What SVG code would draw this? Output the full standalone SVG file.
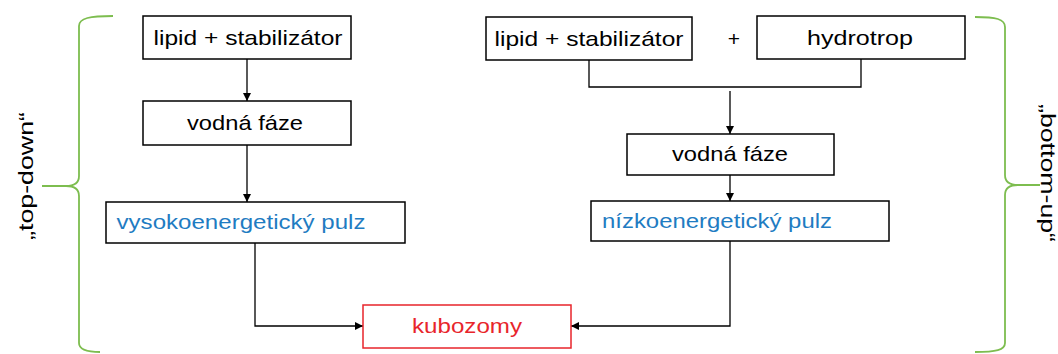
<svg xmlns="http://www.w3.org/2000/svg" width="1058" height="354" viewBox="0 0 1058 354">
<defs>
<style>
.box{fill:#fff;stroke:#000;stroke-width:1.5}
.red{fill:#fff;stroke:#e8252b;stroke-width:1.5}
.t{font-family:"Liberation Sans",Arial,sans-serif;font-size:21px;text-anchor:middle;fill:#000}
.blue{fill:#1f7cc2}
.rt{fill:#e8252b}
.c{fill:none;stroke:#000;stroke-width:1.3}
.br{fill:none;stroke:#7dbd4f;stroke-width:1.8}
</style>
<marker id="ah" viewBox="0 0 10 10" refX="10" refY="5" markerWidth="8" markerHeight="8" markerUnits="userSpaceOnUse" orient="auto">
<path d="M0,0 L10,5 L0,10 z" fill="#000"/>
</marker>
</defs>
<rect width="1058" height="354" fill="#fff"/>
<g id="connectors">
<path class="c" d="M247,59 V101" marker-end="url(#ah)"/>
<path class="c" d="M247,145 V202" marker-end="url(#ah)"/>
<path class="c" d="M255,243 V326 H363" marker-end="url(#ah)"/>
<path class="c" d="M589,60 V87 H861 V59"/>
<path class="c" d="M730,91 V134" marker-end="url(#ah)"/>
<path class="c" d="M730,175 V201" marker-end="url(#ah)"/>
<path class="c" d="M730,241 V326 H571" marker-end="url(#ah)"/>
</g>
<g id="n1"><rect class="box" x="143" y="16" width="208" height="43"/><text class="t" x="248" y="45" textLength="189" lengthAdjust="spacingAndGlyphs">lipid + stabilizátor</text></g>
<g id="n2"><rect class="box" x="143" y="101" width="208" height="44"/><text class="t" x="245" y="130" textLength="116" lengthAdjust="spacingAndGlyphs">vodná fáze</text></g>
<g id="n3"><rect class="box" x="106" y="202" width="299" height="41"/><text class="t blue" x="241" y="229" textLength="249" lengthAdjust="spacingAndGlyphs">vysokoenergetický pulz</text></g>
<g id="n4"><rect class="box" x="486" y="17" width="206" height="43"/><text class="t" x="589" y="46" textLength="189" lengthAdjust="spacingAndGlyphs">lipid + stabilizátor</text></g>
<g id="n5"><text class="t" x="734" y="46">+</text></g>
<g id="n6"><rect class="box" x="757" y="16" width="208" height="43"/><text class="t" x="860" y="45" textLength="106" lengthAdjust="spacingAndGlyphs">hydrotrop</text></g>
<g id="n7"><rect class="box" x="627" y="134" width="207" height="41"/><text class="t" x="730" y="161" textLength="116" lengthAdjust="spacingAndGlyphs">vodná fáze</text></g>
<g id="n8"><rect class="box" x="591" y="201" width="298" height="40"/><text class="t blue" x="717" y="228" textLength="230" lengthAdjust="spacingAndGlyphs">nízkoenergetický pulz</text></g>
<g id="n9"><rect class="red" x="363" y="305" width="208" height="43"/><text class="t rt" x="467" y="333" textLength="110" lengthAdjust="spacingAndGlyphs">kubozomy</text></g>
<g id="brace-left">
<path class="br" d="M113,16 C90,16 79,18 79,26 V176 C79,182 76,186 66,186 H42 M66,186 C76,186 79,190 79,196 V343 C79,350 88,352 100,352"/>
<text class="t" transform="translate(33,176) rotate(-90)" textLength="128" lengthAdjust="spacingAndGlyphs">„top-down“</text>
</g>
<g id="brace-right">
<path class="br" d="M975,17 C996,17 1005,19 1005,27 V175 C1005,181 1008,185 1018,185 H1040 M1018,185 C1008,185 1005,189 1005,195 V343 C1005,350 996,352 975,352"/>
<text class="t" style="font-size:20px" transform="translate(1041,173) rotate(90)" textLength="138" lengthAdjust="spacingAndGlyphs">„bottom-up“</text>
</g>
</svg>
